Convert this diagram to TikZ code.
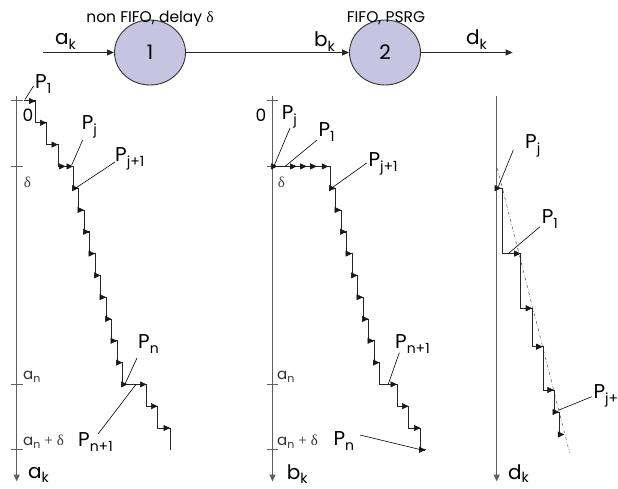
\documentclass[tikz,border=0pt]{standalone}
\usepackage{fontspec}
\setmainfont{Poppins}
\newfontfamily\grk{Liberation Serif}
\usetikzlibrary{arrows.meta,shapes.geometric}
\definecolor{lav}{RGB}{199,196,226}
\definecolor{axg}{RGB}{95,95,95}
\newcommand\subx[1]{\raisebox{-5pt}{\fontsize{14}{16}\selectfont #1}}
\newcommand\suby[1]{\raisebox{-3.5pt}{\fontsize{14}{16}\selectfont #1}}
\newcommand\subs[1]{\raisebox{-3pt}{\fontsize{11}{12}\selectfont #1}}
\newcommand\dlt{{\grk δ}}
\begin{document}
\begin{tikzpicture}[x=1pt,y=-1pt,
 plab/.style={font=\fontsize{20}{24}\selectfont, inner sep=0pt, anchor=base west},
 slab/.style={font=\fontsize{15}{17}\selectfont, inner sep=0pt, anchor=base west, text=black!80},
 zlab/.style={font=\fontsize{17}{20}\selectfont, inner sep=0pt},
 circ/.style={ellipse, draw=black!80, line width=0.9pt, fill=lav, minimum width=71pt, minimum height=65pt, inner sep=0pt, font=\fontsize{20}{24}\selectfont},
 flow/.style={draw=black!85, line width=0.9pt, -{Triangle[length=7pt,width=6pt]}},
 axisl/.style={draw=axg, line width=1.1pt, -{Triangle[length=7pt,width=6pt]}},
 tickl/.style={draw=axg, line width=1pt},
 stair/.style={draw=black!85, line width=1pt},
 sar/.style={draw=black!90, line width=0.6pt, -{Triangle[length=6.5pt,width=6pt]}},
 ptr/.style={draw=black, line width=0.6pt},
 guide/.style={draw=black!70, line width=0.5pt, dash dot},
 ttl/.style={font=\fontsize{15.5}{18}\selectfont, inner sep=0pt, anchor=base}
]
\useasboundingbox (0,0) rectangle (618,489);

% ---- top flow ----
\node[circ] (c1) at (150,52.5) {1};
\node[circ] (c2) at (385,52.5) {2};
\coordinate (ain) at (43,52.5);
\coordinate (dout) at (512.7,52.5);
\draw[flow] (ain) -- (c1);
\draw[flow] (c1) -- (c2);
\draw[flow] (c2) -- (dout);
\node[ttl] (t1) at (150,23) {non FIFO, delay \dlt};
\node[ttl] (t2) at (386,23) {FIFO, PSRG};
\node[plab] (lak) at (55,45) {a\subx{k}};
\node[plab] (lbk) at (314,46.5) {b\subx{k}};
\node[plab] (ldk) at (466,45) {d\subx{k}};

% ---- axes ----
\coordinate (a1t) at (16.7,96);  \coordinate (a1b) at (16.7,481.5);
\coordinate (a2t) at (272.5,96); \coordinate (a2b) at (272.5,481.5);
\coordinate (a3t) at (496.7,96); \coordinate (a3b) at (496.7,481.5);
\draw[axisl] (a1t) -- (a1b);
\draw[axisl] (a2t) -- (a2b);
\draw[axisl] (a3t) -- (a3b);
\foreach \y in {101,166.4,384.4,449.8}{
  \draw[tickl] (11,\y) -- (22.5,\y);
  \draw[tickl] (266.5,\y) -- (278,\y);
}
\node[plab] (bak) at (28,478.5) {a\suby{k}};
\node[plab] (bbk) at (286.7,479.5) {b\suby{k}};
\node[plab] (bdk) at (508,479) {d\suby{k}};

% axis labels left
\node[zlab] (z1) at (28,115) {0};
\node[font=\fontsize{15}{17}\selectfont\grk, inner sep=0pt, text=black!75] (dl1) at (27.5,182) {δ};
\node[slab] (an1) at (23,379) {a\subs{n}};
\node[slab] (and1) at (23,445) {a\subs{n} {\grk +} \dlt};
% axis labels middle
\node[zlab] (z2) at (261,115) {0};
\node[font=\fontsize{15}{17}\selectfont\grk, inner sep=0pt, text=black!75] (dl2) at (281.5,182) {δ};
\node[slab] (an2) at (277,379) {a\subs{n}};
\node[slab] (and2) at (277,445) {a\subs{n} {\grk +} \dlt};

% ---- left staircase ----
\draw[stair] (24,101) -- (35.5,101) -- (35.5,122.8) -- (46.5,122.8) -- (46.5,144.6) -- (58,144.6) -- (58,166.4) -- (73,166.4) -- (73,188.2) -- (78.5,188.2) -- (78.5,210) -- (84,210) -- (84,231.8) -- (89.5,231.8) -- (89.5,253.6) -- (95,253.6) -- (95,275.4) -- (100.5,275.4) -- (100.5,297.2) -- (106,297.2) -- (106,319) -- (111.5,319) -- (111.5,340.8) -- (117,340.8) -- (117,362.6) -- (122.5,362.6) -- (122.5,384.4) -- (146.5,384.4) -- (146.5,406.2) -- (157.5,406.2) -- (157.5,428) -- (170,428) -- (170,449.8);
\foreach \x/\y in {35.5/101,46.5/122.8,58/144.6,65.5/166.4,73/166.4,78.5/188.2,84/210,89.5/231.8,95/253.6,100.5/275.4,106/297.2,111.5/319,117/340.8,122.5/362.6,127.5/384.4,146.5/384.4,157.5/406.2,170/428}
  \draw[sar] (\x-0.6,\y) -- (\x,\y);

% ---- middle staircase ----
\draw[stair] (272.5,166.4) -- (330,166.4) -- (330,188.2) -- (335.5,188.2) -- (335.5,210) -- (341,210) -- (341,231.8) -- (346.5,231.8) -- (346.5,253.6) -- (352,253.6) -- (352,275.4) -- (357.5,275.4) -- (357.5,297.2) -- (363,297.2) -- (363,319) -- (368.5,319) -- (368.5,340.8) -- (374,340.8) -- (374,362.6) -- (379.5,362.6) -- (379.5,384.4) -- (397,384.4) -- (397,406.2) -- (408.5,406.2) -- (408.5,428) -- (420.5,428) -- (420.5,449.8) -- (425.5,449.8);
\foreach \x/\y in {277.5/166.4,296.7/166.4,306.7/166.4,316.7/166.4,328.3/166.4,335.5/188.2,341/210,346.5/231.8,352/253.6,357.5/275.4,363/297.2,368.5/319,374/340.8,379.5/362.6,397/384.4,408.5/406.2,420.5/428,425.5/449.8}
  \draw[sar] (\x-0.6,\y) -- (\x,\y);

% ---- right staircase ----
\draw[guide] (497.3,168.3) -- (569.5,452.5);
\draw[stair] (496.7,188.2) -- (502.3,188.2) -- (502.3,253.6) -- (520.7,253.6) -- (520.7,308.3) -- (532.7,308.3) -- (532.7,346.7) -- (543,346.7) -- (543,390) -- (554.3,390) -- (554.3,412) -- (559,412) -- (559,434.5);
\foreach \x/\y in {501/188.2,520.7/253.6,532.2/308.3,542.7/346.7,553.8/390,559/412,564.3/434.5}
  \draw[sar] (\x-0.6,\y) -- (\x,\y);

% ---- P labels and pointers: left ----
\node[plab] (lp1) at (35,88.3) {P\subx{1}};
\node[plab] (lpj) at (81.7,130) {P\subx{j}};
\node[plab] (lpj1) at (115,161.7) {P\subx{j+1}};
\node[plab] (lpn) at (138,348) {P\subx{n}};
\node[plab] (lpn1) at (78,446.7) {P\subx{n+1}};
\draw[ptr] (25,99.5) -- (33.5,86);
\draw[ptr] (71.7,165) -- (82.7,140);
\draw[ptr] (75,188.5) -- (115,162);
\draw[ptr] (125,384) -- (137,358);
\draw[ptr] (136,384.4) -- (98,434);

% ---- middle ----
\node[plab] (mpj) at (281.7,120) {P\subx{j}};
\node[plab] (mp1) at (318.3,136.7) {P\subx{1}};
\node[plab] (mpj1) at (368.3,166.7) {P\subx{j+1}};
\node[plab] (mpn1) at (395,348.3) {P\subx{n+1}};
\node[plab] (mpn) at (333.3,445) {P\subx{n}};
\draw[ptr] (274,166) -- (290,128);
\draw[ptr] (285,166.4) -- (317,140);
\draw[ptr] (331.7,188) -- (366.7,163);
\draw[ptr] (388.3,384) -- (399.3,352.7);
\draw[ptr] (360,435) -- (423.3,450.3);

% ---- right ----
\node[plab] (rpj) at (525,148.3) {P\subx{j}};
\node[plab] (rp1) at (541.7,223.3) {P\subx{1}};
\node[plab] (rpjp) at (593.3,398.3) {P\subx{j+}};
\draw[ptr] (498.3,186.7) -- (513.3,150);
\draw[ptr] (508.3,253.6) -- (540,226.7);
\draw[ptr] (559,410) -- (591.7,396.7);
\end{tikzpicture}
\end{document}
